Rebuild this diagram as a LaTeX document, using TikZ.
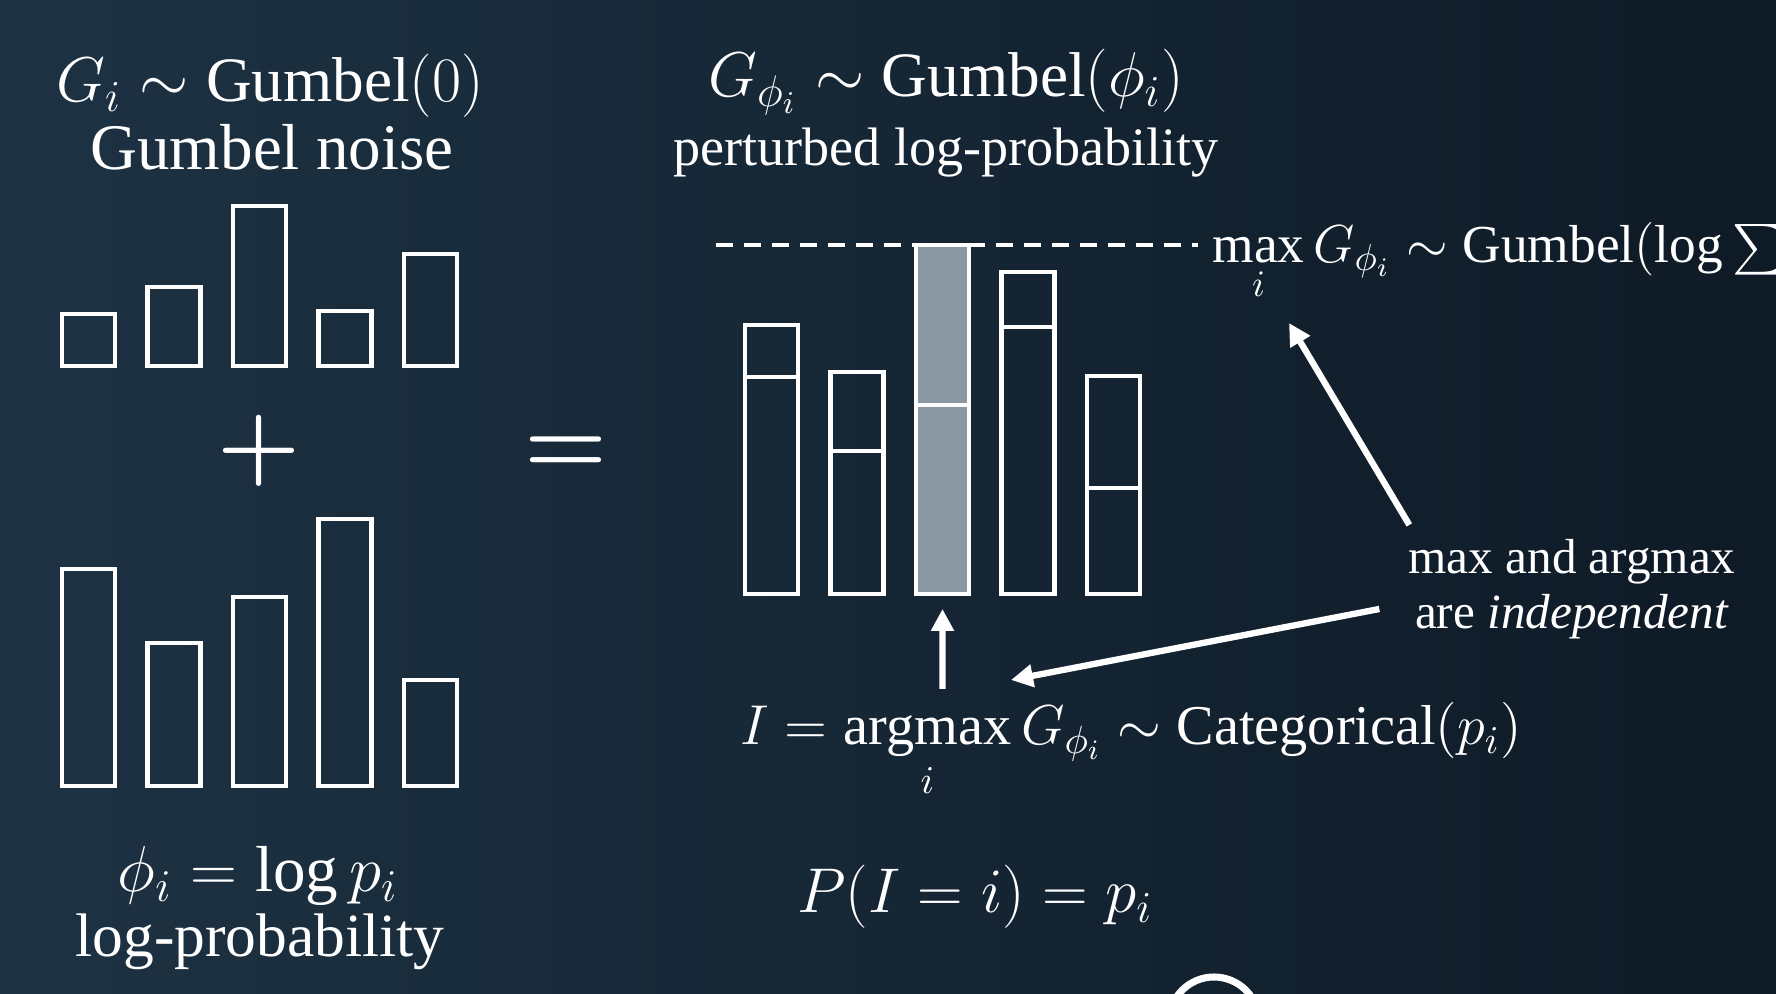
\RequirePackage{fix-cm}
\documentclass[tikz,border=0pt]{standalone}
\usepackage{amsmath}
\usepackage{fontspec}
\setmainfont{Liberation Serif}
\usetikzlibrary{arrows.meta, positioning, calc}
\definecolor{cbgl}{HTML}{1D3243}
\definecolor{cbgd}{HTML}{0E1A26}
\definecolor{cfill}{HTML}{8C98A1}
\tikzset{
  every picture/.style={line width=1.4pt},
  bar/.style={draw=white, fill=#1, rectangle, inner sep=0pt, outer sep=0pt, minimum width=0.53cm, anchor=south west},
  bar/.default=none,
  arrow/.style={-{Triangle[length=2.2mm, width=2.2mm]}, draw=white, line width=1.8pt},
  dashline/.style={draw=white, line width=1.3pt, dash pattern=on 0.17cm off 0.11cm},
  lbl/.style={text=white, inner sep=0pt, anchor=base},
  bigtxt/.style={lbl, font=\fontsize{18.5}{21}\selectfont},
  op/.style={lbl, anchor=center, font=\fontsize{27}{29}\selectfont\boldmath},
  note/.style={text=white, align=center, font=\fontsize{14}{15.7}\selectfont},
}

\begin{document}
\begin{tikzpicture}
  \useasboundingbox (0,0) rectangle (17.76,9.94);
  \clip (0,0) rectangle (17.76,9.94);
  \fill[left color=cbgl, right color=cbgd] (0,0) rectangle (17.76,9.94);
  % noise, log-probability and perturbed bars
  \foreach \i/\g/\p/\c in {1/0.52/2.17/none, 2/0.79/1.43/none, 3/1.60/1.89/cfill, 4/0.55/2.67/none, 5/1.12/1.06/none} {
    \pgfmathsetmacro\x{0.62+0.855*(\i-1)}
    \node[bar, minimum height=\g cm] (g\i) at (\x,6.28) {};
    \node[bar, minimum height=\p cm] (f\i) at (\x,2.08) {};
    \node[bar=\c, minimum height=\p cm] (pl\i) at (\x+6.83,4.00) {};
    \node[bar=\c, minimum height=\g cm] (pg\i) at (pl\i.north west) {};
  }
  % left column
  \node[lbl, font=\fontsize{18}{20}\selectfont] (gi) at (2.70,8.92) {$G_i \sim \mathrm{Gumbel}(0)$};
  \node[bigtxt] (gn) at (2.72,8.24) {Gumbel noise};
  \node[op] (plus) at (2.595,5.43) {$+$};
  \node[lbl, font=\fontsize{18.5}{21}\selectfont] (phi) at (2.58,1.02) {$\phi_i = \log p_i$};
  \node[lbl, font=\fontsize{17.5}{20}\selectfont] (lp) at (2.60,0.37) {log-probability};
  \node[op] (eq) at (5.66,5.39) {$=$};
  % right column
  \node[lbl, font=\fontsize{18}{20}\selectfont] (gphi) at (9.46,8.97) {$G_{\phi_i} \sim \mathrm{Gumbel}(\phi_i)$};
  \node[lbl, font=\fontsize{15.4}{17}\selectfont] (pert) at (9.46,8.28) {perturbed log-probability};
  \node[lbl, anchor=base west, font=\fontsize{15.2}{18}\selectfont] (mx) at (12.10,7.31) {$\displaystyle\max_i G_{\phi_i} \sim \mathrm{Gumbel}(\log\textstyle\sum$};
  \coordinate (dl) at (7.16,7.49);
  \draw[dashline, shorten >=0.12cm] (dl) -- (dl -| mx.west);
  \node[lbl, font=\fontsize{16}{18}\selectfont] (am) at (11.31,2.49) {$\displaystyle I = \operatorname*{argmax}_i G_{\phi_i} \sim \mathrm{Categorical}(p_i)$};
  \node[lbl, font=\fontsize{18}{20}\selectfont] (pii) at (9.75,0.81) {$P(I = i) = p_i$};
  \node[note] (nt) at (15.72,4.05) {max and argmax\\are \textit{independent}};
  % arrows
  \coordinate (upst) at (9.425,3.05);
  \coordinate (tam) at (10.11,3.14);
  \coordinate (tmx) at (12.89,6.71);
  \draw[arrow, shorten >=0.15cm] (upst) -- (pl3.south);
  \draw[arrow] ([shift={(-0.15,-0.2)}]nt.west) -- (tam);
  \draw[arrow] ([xshift=0.15cm]nt.north west) -- (tmx);
  % logo ring, cut by the edge
  \draw[white, line width=2pt] (12.14,-0.28) circle (0.45);
\end{tikzpicture}
\end{document}
